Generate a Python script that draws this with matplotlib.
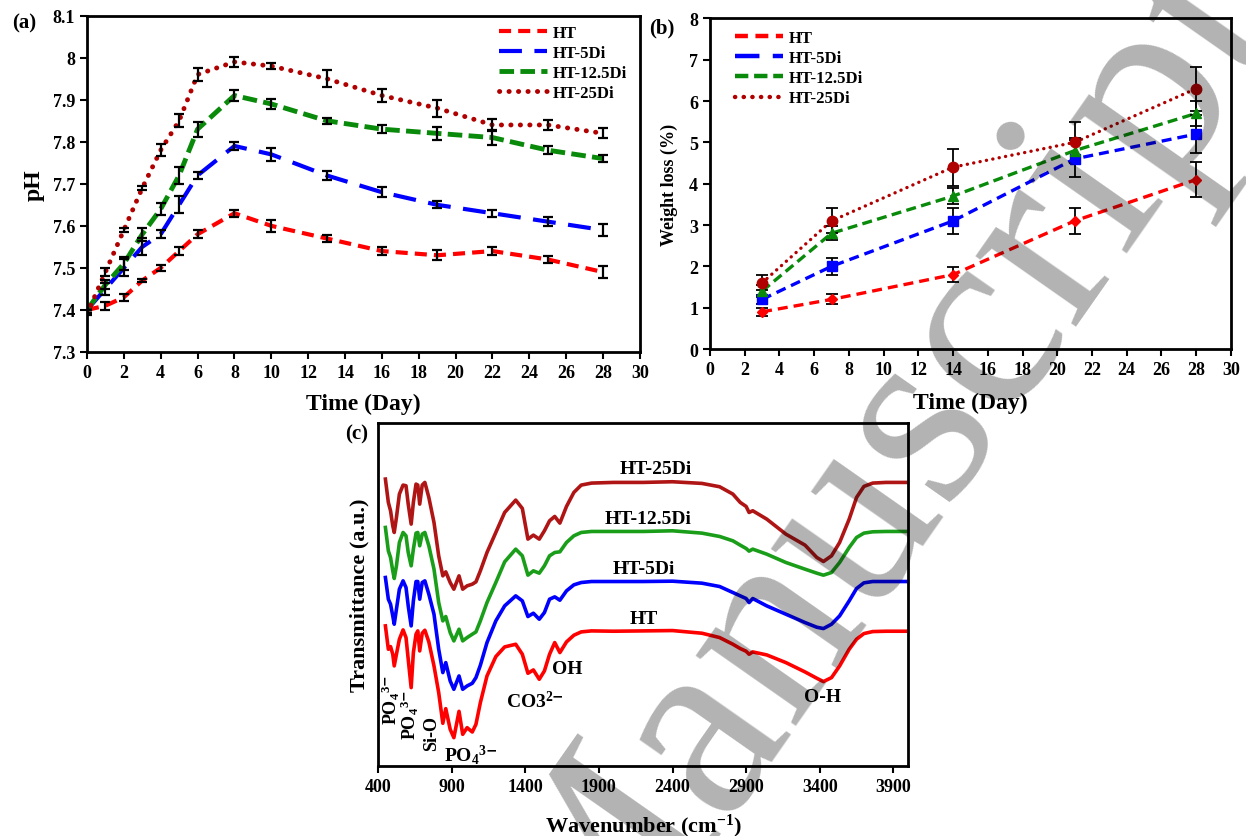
import matplotlib
matplotlib.use('Agg')
import matplotlib.pyplot as plt
from matplotlib.lines import Line2D

plt.rcParams['font.family'] = 'Liberation Serif'
plt.rcParams['font.weight'] = 'bold'
plt.rcParams['mathtext.fontset'] = 'custom'
plt.rcParams['mathtext.rm'] = 'Liberation Serif:bold'
plt.rcParams['mathtext.it'] = 'Liberation Serif:bold'
plt.rcParams['mathtext.bf'] = 'Liberation Serif:bold'

names = ['HT', 'HT-5Di', 'HT-12.5Di', 'HT-25Di']

# (a) pH vs time
days_ph = [0, 1, 2, 3, 4, 5, 6, 8, 10, 13, 16, 19, 22, 25, 28]
ph_ht = [7.40, 7.41, 7.43, 7.47, 7.50, 7.54, 7.58, 7.63, 7.60, 7.57, 7.54, 7.53, 7.54, 7.52, 7.49]
ph_5 = [7.40, 7.45, 7.50, 7.55, 7.58, 7.65, 7.72, 7.79, 7.77, 7.72, 7.68, 7.65, 7.63, 7.61, 7.59]
ph_12 = [7.40, 7.46, 7.51, 7.58, 7.64, 7.72, 7.83, 7.91, 7.89, 7.85, 7.83, 7.82, 7.81, 7.78, 7.76]
ph_25 = [7.39, 7.49, 7.59, 7.69, 7.78, 7.85, 7.96, 7.99, 7.98, 7.95, 7.91, 7.88, 7.84, 7.84, 7.82]
ph_err_ht = [0, 0.01, 0.008, 0.003, 0.008, 0.01, 0.01, 0.008, 0.015, 0.008, 0.01, 0.012, 0.01, 0.008, 0.015]
ph_err_5 = [0, 0.015, 0.02, 0.02, 0.01, 0.02, 0.008, 0.01, 0.015, 0.01, 0.012, 0.008, 0.008, 0.01, 0.015]
ph_err_12 = [0, 0.01, 0.015, 0.015, 0.015, 0.02, 0.018, 0.012, 0.012, 0.007, 0.01, 0.015, 0.018, 0.01, 0.008]
ph_err_25 = [0.003, 0.01, 0.005, 0.005, 0.015, 0.015, 0.015, 0.012, 0.008, 0.02, 0.015, 0.02, 0.015, 0.012, 0.012]

# (b) weight loss
days_wl = [3, 7, 14, 21, 28]
wl_ht = [0.9, 1.2, 1.8, 3.1, 4.1]
wl_5 = [1.2, 2.0, 3.1, 4.6, 5.2]
wl_12 = [1.4, 2.8, 3.7, 4.8, 5.7]
wl_25 = [1.6, 3.1, 4.4, 5.0, 6.3]
wl_err_ht = [0.09, 0.12, 0.19, 0.31, 0.42]
wl_err_5 = [0.1, 0.21, 0.31, 0.45, 0.46]
wl_err_12 = [0.15, 0.17, 0.2, 0.3, 0.31]
wl_err_25 = [0.18, 0.3, 0.45, 0.5, 0.53]

# (c) FTIR
wavenumber = [450, 470, 485, 500, 510, 525, 545, 570, 590, 605,
              625, 640, 658, 670, 683, 700, 718, 745, 780, 812,
              840, 860, 890, 915, 950, 975, 1005, 1040, 1065, 1095,
              1140, 1200, 1260, 1335, 1380, 1418, 1455, 1495, 1530, 1565,
              1600, 1635, 1680, 1730, 1780, 1850, 2000, 2200, 2400, 2600,
              2720, 2810, 2860, 2900, 2920, 2945, 3040, 3170, 3300, 3380,
              3425, 3480, 3535, 3600, 3650, 3700, 3760, 3850, 4000]
tr_ht = [42.0, 35.0, 35.8, 33.5, 30.0, 33.5, 38.0, 40.8, 38.5, 32.0,
         23.5, 34.0, 39.5, 40.5, 34.5, 39.8, 40.7, 37.2, 30.0, 22.0,
         12.8, 17.2, 11.0, 8.5, 16.4, 9.5, 11.5, 10.2, 12.5, 19.0,
         27.0, 32.8, 35.7, 36.5, 33.5, 27.8, 28.8, 26.0, 28.5, 33.5,
         37.0, 34.0, 37.2, 39.2, 40.2, 40.5, 40.4, 40.5, 40.6, 39.8,
         38.5, 36.5, 35.2, 34.4, 33.5, 34.2, 33.3, 31.0, 28.2, 26.3,
         25.3, 26.5, 30.0, 35.0, 38.0, 39.7, 40.3, 40.4, 40.4]
tr_5 = [56.5, 50.0, 48.5, 45.0, 42.5, 47.0, 53.0, 55.5, 53.5, 48.0,
        42.0, 49.5, 55.3, 55.3, 50.0, 55.0, 55.5, 51.5, 45.5, 35.0,
        28.0, 31.0, 25.5, 23.0, 27.0, 23.0, 24.0, 24.8, 26.5, 30.2,
        37.0, 43.5, 48.0, 51.0, 49.5, 44.8, 45.8, 44.0, 46.0, 50.0,
        50.7, 49.7, 52.5, 54.3, 55.0, 55.3, 55.3, 55.3, 55.4, 54.8,
        53.8, 52.0, 51.0, 50.2, 49.0, 50.2, 48.0, 45.5, 43.0, 41.6,
        41.2, 42.5, 45.0, 49.5, 53.2, 54.9, 55.3, 55.3, 55.3]
tr_12 = [71.5, 64.5, 62.5, 58.5, 56.2, 60.0, 67.0, 70.0, 69.0, 64.0,
         60.0, 65.0, 69.8, 70.0, 66.0, 69.5, 70.0, 66.0, 59.0, 49.0,
         43.5, 44.8, 40.0, 37.5, 41.0, 37.5, 38.5, 39.5, 40.2, 43.5,
         49.0, 55.0, 61.2, 65.0, 63.0, 57.2, 58.5, 57.8, 60.0, 63.0,
         64.0, 64.2, 67.0, 69.0, 70.0, 70.3, 70.3, 70.3, 70.5, 69.8,
         68.8, 67.5, 66.2, 65.2, 64.4, 65.0, 63.5, 61.0, 59.0, 57.8,
         57.2, 58.0, 61.0, 65.5, 68.5, 69.8, 70.2, 70.3, 70.3]
tr_25 = [86.0, 79.0, 76.5, 72.0, 70.0, 74.5, 81.5, 84.2, 84.0, 78.5,
         72.5, 79.0, 84.5, 84.2, 78.5, 84.2, 85.0, 80.5, 73.0, 63.0,
         57.0, 58.2, 55.0, 53.0, 57.0, 53.0, 54.0, 54.5, 55.2, 58.5,
         64.0, 70.0, 76.0, 79.7, 77.2, 68.0, 69.2, 68.0, 70.5, 73.5,
         74.8, 72.8, 77.8, 82.0, 84.2, 84.8, 85.0, 85.0, 85.2, 84.7,
         83.7, 81.5, 79.0, 77.8, 76.0, 76.5, 74.0, 69.5, 66.2, 62.5,
         61.3, 63.0, 67.0, 74.0, 80.5, 83.8, 84.8, 85.0, 85.0]

colors = ['#ff0000', '#0000ff', '#0a8a0a', '#b00000']
ftir_colors = ['#ff0000', '#0000ff', '#1a9e1a', '#b01515']


def style_axes(ax):
    for s in ax.spines.values():
        s.set_linewidth(2)
    ax.tick_params(direction='out', length=5, width=1.5, labelsize=13,
                   top=False, right=False)


fig = plt.figure(figsize=(12.46, 8.37), dpi=100)

# ---- (a) ----
ax1 = fig.add_axes([0.0698, 0.5783, 0.4438, 0.4018])
ph_series = [ph_ht, ph_5, ph_12, ph_25]
ph_errs = [ph_err_ht, ph_err_5, ph_err_12, ph_err_25]
ls_a = [(0, (2.9, 1.7)), (0, (5.5, 3.0)), (0, (3.0, 1.3)), (0, (0.05, 1.9))]
lw_a = [3.0, 3.0, 3.5, 3.5]
for y, e, c, ls, lw, n in zip(ph_series, ph_errs, colors, ls_a, lw_a, names):
    line, = ax1.plot(days_ph, y, color=c, lw=lw, ls=ls, label=n, zorder=2)
    line.set_dash_capstyle('round' if n == 'HT-25Di' else 'butt')
    ax1.errorbar(days_ph, y, yerr=e, fmt='none', ecolor='k', elinewidth=1.6,
                 capsize=3.5, capthick=1.6, zorder=3)
ax1.set_xlim(0, 30)
ax1.set_ylim(7.3, 8.1)
ax1.set_xticks(range(0, 31, 2))
ax1.set_yticks([7.3, 7.4, 7.5, 7.6, 7.7, 7.8, 7.9, 8.0, 8.1])
ax1.set_yticklabels(['7.3', '7.4', '7.5', '7.6', '7.7', '7.8', '7.9', '8', '8.1'])
style_axes(ax1)
ax1.set_xlabel('Time (Day)', fontsize=17, fontweight='bold', labelpad=9)
ax1.set_ylabel('pH', fontsize=17, fontweight='bold', labelpad=6)
ax1.legend(loc='upper left', bbox_to_anchor=(0.745, 0.973), frameon=False,
           fontsize=12, handlelength=2.9, handletextpad=0.3, labelspacing=0.25,
           borderpad=0, borderaxespad=0)
fig.text(0.010, 0.972, '(a)', fontsize=15, fontweight='bold', ha='left', va='center')

# ---- (b) ----
ax2 = fig.add_axes([0.5698, 0.5818, 0.4181, 0.3951])
wl_series = [wl_ht, wl_5, wl_12, wl_25]
wl_errs = [wl_err_ht, wl_err_5, wl_err_12, wl_err_25]
ls_b = [(0, (3.0, 1.8)), (0, (3.0, 1.8)), (0, (3.0, 1.6)), (0, (0.05, 1.9))]
markers = ['D', 's', '^', 'o']
msizes = [5.5, 7, 7.5, 7.5]
handles = []
for y, e, c, ls, m, ms, n in zip(wl_series, wl_errs, colors, ls_b, markers, msizes, names):
    line, = ax2.plot(days_wl, y, color=c, lw=2.4, ls=ls, zorder=2)
    if n == 'HT-25Di':
        line.set_dash_capstyle('round')
    ax2.errorbar(days_wl, y, yerr=e, fmt='none', ecolor='k', elinewidth=1.3,
                 capsize=4, capthick=1.3, zorder=3)
    ax2.plot(days_wl, y, ls='none', marker=m, ms=ms, color=c, zorder=4)
    h = Line2D([], [], color=c, lw=3.2, ls=ls_a[names.index(n)])
    if n == 'HT-25Di':
        h.set_dash_capstyle('round')
    handles.append(h)
ax2.set_xlim(0, 30)
ax2.set_ylim(0, 8)
ax2.set_xticks(range(0, 31, 2))
ax2.set_yticks(range(0, 9))
style_axes(ax2)
ax2.set_xlabel('Time (Day)', fontsize=17, fontweight='bold', labelpad=10)
ax2.set_ylabel('Weight loss (%)', fontsize=13, fontweight='bold', labelpad=8)
ax2.legend(handles, names, loc='upper left', bbox_to_anchor=(0.048, 0.965),
           frameon=False, fontsize=12, handlelength=2.9, handletextpad=0.3,
           labelspacing=0.25, borderpad=0, borderaxespad=0)
fig.text(0.521, 0.966, '(b)', fontsize=15, fontweight='bold', ha='left', va='center')

# ---- (c) ----
ax3 = fig.add_axes([0.3034, 0.0836, 0.4254, 0.4098])
for y, c in zip([tr_ht, tr_5, tr_12, tr_25], ftir_colors):
    ax3.plot(wavenumber, y, color=c, lw=2.6, solid_joinstyle='round', zorder=2)
ax3.set_xlim(400, 4000)
ax3.set_ylim(0, 102.8)
ax3.set_xticks(range(400, 4000, 500))
ax3.set_yticks([])
style_axes(ax3)
ax3.set_xlabel('Wavenumber (cm$^{-1}$)', fontsize=16, fontweight='bold', labelpad=12)
ax3.set_ylabel('Transmittance (a.u.)', fontsize=16, fontweight='bold', labelpad=6)
fig.text(0.277, 0.481, '(c)', fontsize=15, fontweight='bold', ha='left', va='center')

ann = dict(fontsize=14, fontweight='bold', ha='center', va='center')
small = dict(fontsize=13, fontweight='bold', ha='center', va='center')
ax3.text(2284, 89.2, 'HT-25Di', **ann)
ax3.text(2232, 74.2, 'HT-12.5Di', **ann)
ax3.text(2206, 59.2, 'HT-5Di', **ann)
ax3.text(2206, 44.2, 'HT', **ann)
ax3.text(1686, 29.2, 'OH', **ann)
ax3.text(1465, 19.5, 'CO3$^{2\\mathsf{-}}$', **ann)
ax3.text(3419, 20.8, 'O-H', **ann)
ax3.text(490, 20.0, 'PO$_4$$^{3\\mathsf{-}}$', rotation=90, **small)
ax3.text(615, 15.5, 'PO$_4$$^{3\\mathsf{-}}$', rotation=90, **small)
ax3.text(765, 10.0, 'Si-O', rotation=90, **small)
ax3.text(1033, 3.5, 'PO$_4$$^{3\\mathsf{-}}$', **ann)

# watermark
fig.text(935 / 1246, 1 - 518 / 837, 'Manuscript', rotation=55, fontsize=192,
         family='Liberation Serif', fontweight='normal', color=(0, 0, 0, 0.3),
         ha='center', va='baseline', rotation_mode='anchor', zorder=10)

fig.savefig('out.png', dpi=100)
